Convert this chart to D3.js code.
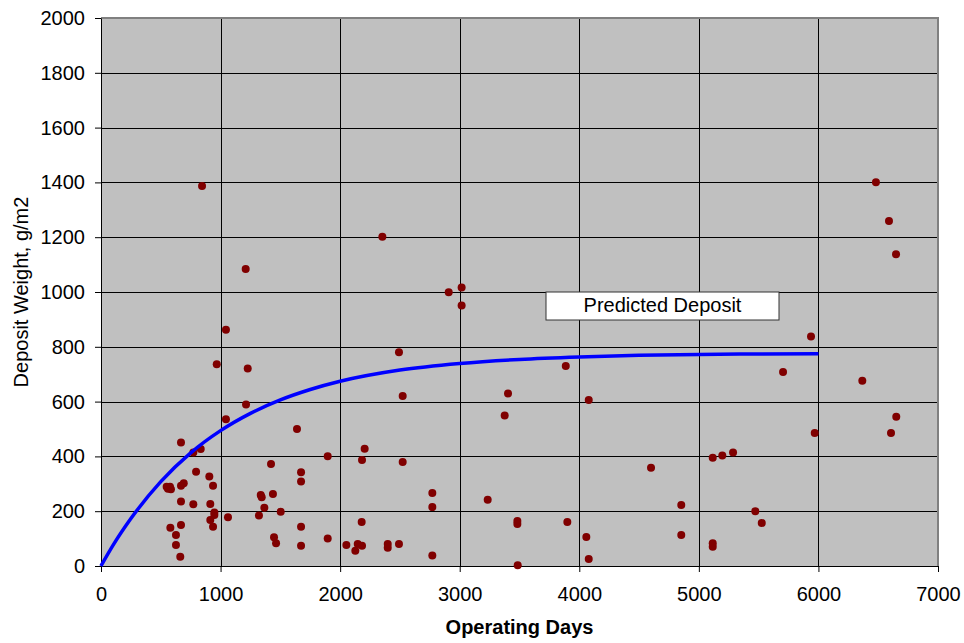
<!DOCTYPE html>
<html>
<head>
<meta charset="utf-8">
<script src="https://cdn.jsdelivr.net/npm/d3@7"></script>
<style>
  body { margin: 0; background: white; }
  text { font-family: "Liberation Sans", Arial, sans-serif; }
</style>
</head>
<body>
<div id="canvas"></div>
<script>
var w = 964;
var h = 643;

// x ticks and y ticks
var xTicks = [0, 1000, 2000, 3000, 4000, 5000, 6000, 7000];
var yTicks = [0, 200, 400, 600, 800, 1000, 1200, 1400, 1600, 1800, 2000];

// measured deposits: operating days, weight g/m2
var days = [
    845, 1210, 1045, 968, 1227, 1213, 1045, 669, 772, 834, 795, 906, 937, 1422,
    549, 577, 585, 560, 669, 692, 669, 772, 914, 948, 948, 914, 937, 1062,
    580, 669, 627, 627, 663, 1336, 1344, 1438, 1366, 1321, 1503, 1447, 1464,
    2353, 2908, 3016, 3016, 2492, 2523, 3404, 3376, 1639, 1896, 2205, 2183, 2523,
    1673, 1673, 2771, 2771, 3234, 1673, 1673, 1896, 2180, 2052, 2147, 2183, 2127,
    2398, 2398, 2492, 2771, 3482, 3482, 3485,
    3887, 4079, 5704, 5116, 5196, 5286, 4600, 4853, 4853, 3900, 4059, 4079,
    5472, 5526, 5116, 5116,
    6481, 6590, 6649, 5938, 6367, 6651, 6607, 5969
];
var weights = [
    1387, 1084, 862, 736, 721, 589, 536, 451, 414, 427, 344, 327, 293, 372,
    289, 289, 280, 282, 293, 302, 235, 225, 226, 195, 186, 168, 143, 178,
    140, 150, 113, 77, 34, 259, 251, 263, 213, 184, 198, 105, 83,
    1202, 999, 1016, 951, 780, 620, 630, 549, 500, 401, 428, 387, 380,
    342, 308, 266, 215, 242, 143, 74, 100, 161, 77, 80, 74, 56,
    80, 67, 80, 38, 164, 153, 3,
    730, 606, 708, 395, 403, 414, 359, 223, 113, 161, 106, 26,
    200, 157, 83, 70,
    1401, 1259, 1138, 838, 676, 545, 485, 485
];

// predicted deposit curve
var curveDays = [0, 100, 250, 500, 750, 1000, 1250, 1500, 1750, 2000, 2500, 3000, 3500, 4000, 4500, 5000, 5500, 6000];
var curveWeights = [0, 75, 173, 308, 413, 494, 557, 606, 644, 674, 715, 739, 754, 763, 769, 772, 774, 775];

var plotLeft = 101, plotRight = 938, plotTop = 18, plotBottom = 566;

var xScale = d3.scaleLinear()
               .domain([0, 7000])
               .range([plotLeft, plotRight]);

var yScale = d3.scaleLinear()
               .domain([0, 2000])
               .range([plotBottom, plotTop]);

var canvas = d3.select("#canvas")
               .append("svg")
               .attr("width", w)
               .attr("height", h)
               .style("background-color", "white");

// plot area
canvas.append("rect")
    .attr("x", plotLeft)
    .attr("y", plotTop)
    .attr("width", plotRight - plotLeft)
    .attr("height", plotBottom - plotTop)
    .attr("fill", "#c0c0c0");

// grid
canvas.append("g")
    .selectAll("line")
    .data(yTicks.slice(1))
    .join("line")
    .attr("x1", plotLeft)
    .attr("x2", plotRight)
    .attr("y1", d => Math.round(yScale(d)) + 0.5)
    .attr("y2", d => Math.round(yScale(d)) + 0.5)
    .attr("stroke", "#000")
    .attr("stroke-width", 1);

canvas.append("g")
    .selectAll("line")
    .data(xTicks.slice(1, -1))
    .join("line")
    .attr("x1", d => Math.round(xScale(d)) + 0.5)
    .attr("x2", d => Math.round(xScale(d)) + 0.5)
    .attr("y1", plotTop)
    .attr("y2", plotBottom)
    .attr("stroke", "#000")
    .attr("stroke-width", 1);

// top and right frame
canvas.append("path")
    .attr("d", `M ${plotLeft} ${plotTop} L ${plotRight} ${plotTop} L ${plotRight} ${plotBottom}`)
    .attr("fill", "none")
    .attr("stroke", "#808080")
    .attr("stroke-width", 2);

var xAxis = d3.axisBottom(xScale)
              .tickValues(xTicks)
              .tickFormat(d3.format("d"))
              .tickSize(6)
              .tickPadding(15)
              .tickSizeOuter(0);

var yAxis = d3.axisLeft(yScale)
              .tickValues(yTicks)
              .tickFormat(d3.format("d"))
              .tickSize(6)
              .tickPadding(10)
              .tickSizeOuter(0);

var gx = canvas.append("g")
    .attr("transform", `translate(0, ${plotBottom})`)
    .call(xAxis);

var gy = canvas.append("g")
    .attr("transform", `translate(${plotLeft}, 0)`)
    .call(yAxis);

[gx, gy].forEach(function (g) {
    g.selectAll("path, line").attr("stroke", "#000");
    g.selectAll("text")
        .attr("fill", "#000")
        .style("font-size", "20px")
        .style("font-family", "'Liberation Sans', Arial, sans-serif");
});

canvas.append("text")
    .attr("text-anchor", "middle")
    .attr("x", (plotLeft + plotRight) / 2)
    .attr("y", 634)
    .style("font-size", "20px")
    .style("font-weight", "bold")
    .text("Operating Days");

canvas.append("text")
    .attr("text-anchor", "middle")
    .attr("transform", `translate(28, ${(plotTop + plotBottom) / 2}) rotate(-90)`)
    .style("font-size", "20px")
    .text("Deposit Weight, g/m2");

// measured points
canvas.append("g")
    .selectAll("circle")
    .data(d3.range(days.length))
    .join("circle")
    .attr("r", 4)
    .attr("fill", "#800000")
    .attr("cx", i => xScale(days[i]))
    .attr("cy", i => yScale(weights[i]));

// prediction line
var line = d3.line()
             .x(i => xScale(curveDays[i]))
             .y(i => yScale(curveWeights[i]))
             .curve(d3.curveMonotoneX);

canvas.append("path")
    .datum(d3.range(curveDays.length))
    .attr("d", line)
    .attr("fill", "none")
    .attr("stroke", "#0000ff")
    .attr("stroke-width", 3.5);

// label box
var label = canvas.append("g")
                  .attr("transform", "translate(546, 292)");

label.append("rect")
    .attr("width", 233)
    .attr("height", 28)
    .attr("fill", "white")
    .attr("stroke", "#333")
    .attr("stroke-width", 1);

label.append("text")
    .attr("x", 116.5)
    .attr("y", 20)
    .attr("text-anchor", "middle")
    .style("font-size", "20px")
    .text("Predicted Deposit");
</script>
</body>
</html>
